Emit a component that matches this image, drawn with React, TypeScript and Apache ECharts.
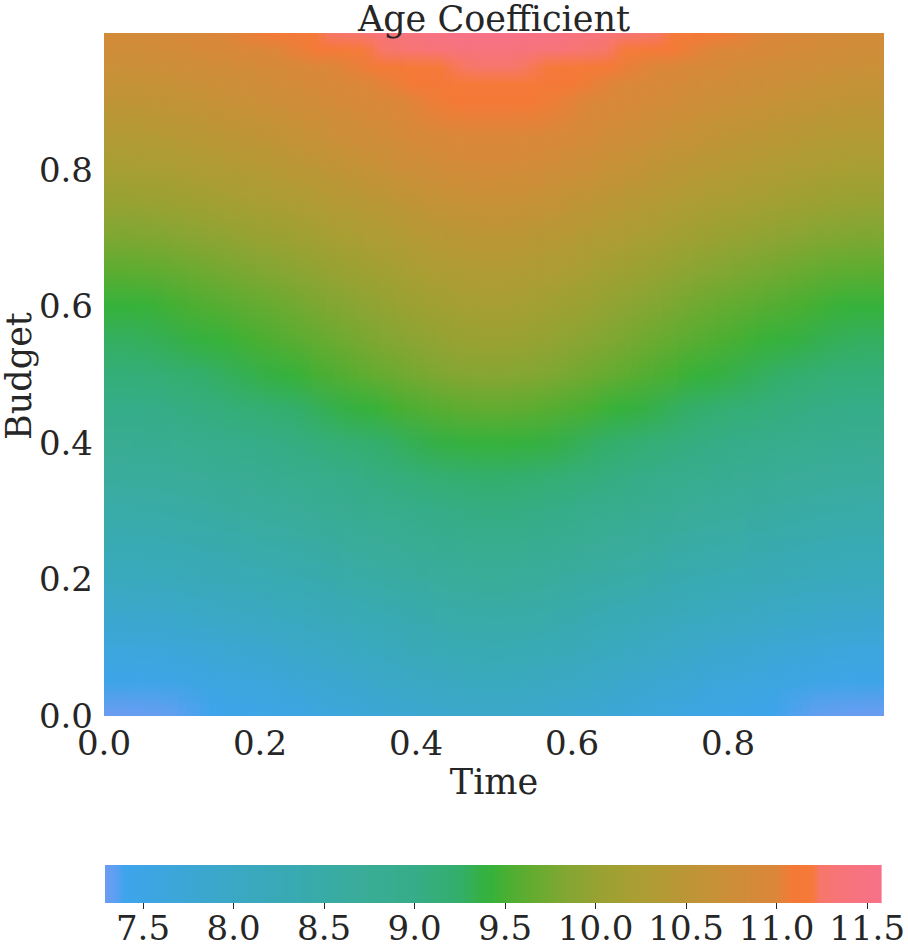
import React, { useEffect, useRef } from "react";
import * as echarts from "echarts";

// ---- data ----
const timeGrid = [
  0, 0.01, 0.02, 0.03, 0.04, 0.05, 0.06, 0.07, 0.08, 0.09, 0.1, 0.11, 0.12, 0.13, 0.14, 0.15, 0.16, 0.17,
  0.18, 0.19, 0.2, 0.21, 0.22, 0.23, 0.24, 0.25, 0.26, 0.27, 0.28, 0.29, 0.3, 0.31, 0.32, 0.33, 0.34, 0.35,
  0.36, 0.37, 0.38, 0.39, 0.4, 0.41, 0.42, 0.43, 0.44, 0.45, 0.46, 0.47, 0.48, 0.49, 0.5, 0.51, 0.52, 0.53,
  0.54, 0.55, 0.56, 0.57, 0.58, 0.59, 0.6, 0.61, 0.62, 0.63, 0.64, 0.65, 0.66, 0.67, 0.68, 0.69, 0.7, 0.71,
  0.72, 0.73, 0.74, 0.75, 0.76, 0.77, 0.78, 0.79, 0.8, 0.81, 0.82, 0.83, 0.84, 0.85, 0.86, 0.87, 0.88, 0.89,
  0.9, 0.91, 0.92, 0.93, 0.94, 0.95, 0.96, 0.97, 0.98, 0.99, 1.0,
];
// share of the centre-vs-edge difference reached at each time
const timeProfile = [
  0, 0.001, 0.003, 0.007, 0.012, 0.02, 0.03, 0.042, 0.058, 0.078, 0.1, 0.12, 0.14, 0.16, 0.18, 0.2, 0.22,
  0.24, 0.26, 0.28, 0.3, 0.324, 0.348, 0.372, 0.396, 0.42, 0.448, 0.476, 0.504, 0.532, 0.56, 0.588, 0.616,
  0.644, 0.672, 0.7, 0.728, 0.756, 0.784, 0.812, 0.84, 0.865, 0.888, 0.91, 0.93, 0.95, 0.966, 0.979, 0.989,
  0.996, 1, 0.996, 0.989, 0.979, 0.966, 0.95, 0.93, 0.91, 0.888, 0.865, 0.84, 0.812, 0.784, 0.756, 0.728,
  0.7, 0.672, 0.644, 0.616, 0.588, 0.56, 0.532, 0.504, 0.476, 0.448, 0.42, 0.396, 0.372, 0.348, 0.324, 0.3,
  0.28, 0.26, 0.24, 0.22, 0.2, 0.18, 0.16, 0.14, 0.12, 0.1, 0.078, 0.058, 0.042, 0.03, 0.02, 0.012, 0.007,
  0.003, 0.001, 0,
];
const budgetGrid = [
  0, 0.05, 0.1, 0.15, 0.2, 0.25, 0.3, 0.35, 0.4, 0.45, 0.5, 0.55, 0.6, 0.65, 0.7, 0.75, 0.8, 0.85, 0.9,
  0.925, 0.95, 0.975, 1.0,
];
// coefficient at time = 0 / 1 (edges)
const edgeValues = [
  7.29, 7.45, 7.64, 7.88, 8.12, 8.3, 8.48, 8.65, 8.82, 8.98, 9.13, 9.28, 9.42, 9.6, 9.8, 10.0, 10.18, 10.36, 10.54,
  10.62, 10.7, 10.78, 10.85,
];
// coefficient at time = 0.5 (centre)
const centerValues = [
  7.9, 8.12, 8.34, 8.52, 8.7, 8.88, 9.06, 9.24, 9.42, 9.64, 9.88, 10.04, 10.18, 10.33, 10.49, 10.66, 10.85, 11.0, 11.12,
  11.18, 11.25, 11.42, 11.58,
];
const xTickValues = [0, 0.2, 0.4, 0.6, 0.8];
const yTickValues = [0, 0.2, 0.4, 0.6, 0.8];
const colorbarTicks = [7.5, 8.0, 8.5, 9.0, 9.5, 10.0, 10.5, 11.0, 11.5];
const valueMin = 7.29;
const valueMax = 11.58;

const colorStops: [number, string][] = [
  [7.29, "#6b9cf2"],
  [7.34, "#5f9ff1"],
  [7.4, "#3ea4ec"],
  [7.63, "#3da6dc"],
  [8.0, "#3aa8c4"],
  [8.36, "#38aab0"],
  [8.72, "#3aac98"],
  [9.0, "#36ad88"],
  [9.25, "#33ae6a"],
  [9.37, "#35b043"],
  [9.43, "#36b23a"],
  [9.5, "#48af32"],
  [9.64, "#62ac31"],
  [9.82, "#80a732"],
  [10.0, "#96a232"],
  [10.19, "#a89f33"],
  [10.45, "#b89735"],
  [10.72, "#cb8f38"],
  [11.0, "#dc8639"],
  [11.09, "#f47936"],
  [11.2, "#f57a3a"],
  [11.24, "#f6776a"],
  [11.35, "#f77478"],
  [11.58, "#f77189"],
];

const TEXT = "#262626";
const FONT = "DejaVu Serif";

function hexToRgb(h: string): number[] {
  const n = parseInt(h.slice(1), 16);
  return [(n >> 16) & 255, (n >> 8) & 255, n & 255];
}
const stopRgb = colorStops.map(([v, c]) => [v, hexToRgb(c)] as [number, number[]]);
function cmap(v: number): string {
  if (v <= stopRgb[0][0]) return colorStops[0][1];
  for (let k = 1; k < stopRgb.length; k++) {
    const [v1, c1] = stopRgb[k];
    if (v <= v1) {
      const [v0, c0] = stopRgb[k - 1];
      const f = (v - v0) / (v1 - v0);
      const c = c0.map((x, i) => Math.round(x + (c1[i] - x) * f));
      return `rgb(${c[0]},${c[1]},${c[2]})`;
    }
  }
  return colorStops[colorStops.length - 1][1];
}

// table of values: field[timeIndex][budgetIndex]
const field = timeGrid.map((_, i) =>
  budgetGrid.map((_, j) => edgeValues[j] + (centerValues[j] - edgeValues[j]) * timeProfile[i])
);

export default function App() {
  const ref = useRef<HTMLDivElement>(null);
  useEffect(() => {
    document.body.style.margin = "0";
    const chart = echarts.init(ref.current!, null, { renderer: "svg" });
    const halfStep = (timeGrid[1] - timeGrid[0]) / 2;
    const last = timeGrid.length - 1;
    const tickLabel = {
      formatter: (v: number) => v.toFixed(1),
      fontSize: 34,
      fontFamily: FONT,
      color: TEXT,
    };
    const option: any = {
      animation: false,
      backgroundColor: "#ffffff",
      grid: [
        { left: 104, top: 33, width: 780, height: 683 },
        { left: 105, top: 865, width: 779, height: 38 },
      ],
      xAxis: [
        {
          gridIndex: 0,
          type: "value",
          min: 0,
          max: 1,
          axisLine: { show: false },
          axisTick: { show: false },
          splitLine: { show: false },
          axisLabel: { ...tickLabel, customValues: xTickValues, margin: 10 },
        },
        {
          gridIndex: 1,
          type: "value",
          min: valueMin,
          max: valueMax,
          axisLine: { show: false },
          splitLine: { show: false },
          axisTick: {
            show: true,
            customValues: colorbarTicks,
            length: 6,
            lineStyle: { color: TEXT, width: 1 },
          },
          axisLabel: { ...tickLabel, customValues: colorbarTicks, margin: 8 },
        },
      ],
      yAxis: [
        {
          gridIndex: 0,
          type: "value",
          min: 0,
          max: 1,
          axisLine: { show: false },
          axisTick: { show: false },
          splitLine: { show: false },
          axisLabel: { ...tickLabel, customValues: yTickValues, margin: 11 },
        },
        { gridIndex: 1, type: "value", min: 0, max: 1, show: false },
      ],
      series: [
        {
          type: "custom",
          xAxisIndex: 0,
          yAxisIndex: 0,
          z: 1,
          data: timeGrid.map((t, i) => [t, i]),
          renderItem: (_p: any, api: any) => {
            const t = api.value(0);
            const i = api.value(1);
            const x0 = api.coord([Math.max(0, t - halfStep), 0])[0];
            const x1 = api.coord([Math.min(1, t + halfStep), 0])[0];
            const yTop = api.coord([0, 1])[1];
            const yBot = api.coord([0, 0])[1];
            const stops = budgetGrid
              .map((b, j) => ({ offset: 1 - b, color: cmap(field[i][j]) }))
              .reverse();
            return {
              type: "rect",
              shape: { x: x0, y: yTop, width: x1 - x0 + (i < last ? 1 : 0), height: yBot - yTop },
              style: { fill: new echarts.graphic.LinearGradient(0, 0, 0, 1, stops) },
            };
          },
        },
        {
          type: "custom",
          xAxisIndex: 1,
          yAxisIndex: 1,
          z: 1,
          data: [[valueMin, valueMax]],
          renderItem: (_p: any, api: any) => {
            const a = api.coord([api.value(0), 1]);
            const b = api.coord([api.value(1), 0]);
            const stops = colorStops.map(([v, c]) => ({
              offset: (v - valueMin) / (valueMax - valueMin),
              color: c,
            }));
            return {
              type: "rect",
              shape: { x: a[0], y: a[1], width: b[0] - a[0], height: b[1] - a[1] },
              style: { fill: new echarts.graphic.LinearGradient(0, 0, 1, 0, stops) },
            };
          },
        },
      ],
      graphic: [
        {
          type: "text",
          z: 100,
          x: 494,
          y: 18.5,
          style: {
            text: "Age Coefficient",
            font: `35px "${FONT}"`,
            fill: TEXT,
            align: "center",
            verticalAlign: "middle",
          },
        },
        {
          type: "text",
          z: 100,
          x: 494,
          y: 782,
          style: {
            text: "Time",
            font: `35px "${FONT}"`,
            fill: TEXT,
            align: "center",
            verticalAlign: "middle",
          },
        },
        {
          type: "text",
          z: 100,
          x: 18.5,
          y: 376,
          rotation: Math.PI / 2,
          style: {
            text: "Budget",
            font: `35px "${FONT}"`,
            fill: TEXT,
            align: "center",
            verticalAlign: "middle",
          },
        },
      ],
    };
    chart.setOption(option);
    return () => chart.dispose();
  }, []);
  return <div ref={ref} style={{ width: 908, height: 948 }} />;
}
